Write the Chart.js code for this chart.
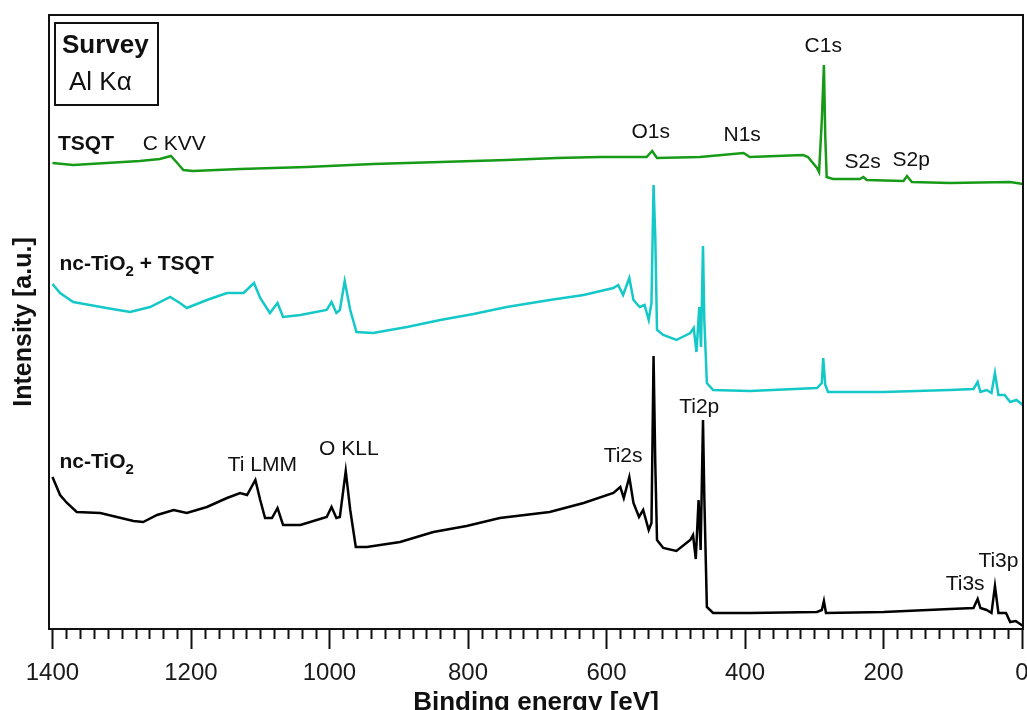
<!DOCTYPE html>
<html>
<head>
<meta charset="utf-8">
<script src="https://cdn.jsdelivr.net/npm/chart.js@4/dist/chart.umd.min.js"></script>
<style>
  body { margin: 0; background: #fff; }
  #wrap { width: 1027px; height: 710px; }
</style>
</head>
<body>
<div id="wrap"><canvas id="xps" width="1027" height="710"></canvas></div>
<script>
// XPS survey spectra, binding energy in eV, intensity in arbitrary units (offset stacked)
const tsqtEnergy = [1400, 1370, 1322, 1274, 1245, 1229, 1221, 1211, 1197, 1129, 1033, 937, 840, 744, 672,
  609, 542, 534, 527, 465, 402, 393, 316, 309, 296, 293, 289, 286, 284, 282,
  273, 234, 229, 224, 171, 166, 159, 104, 17, -1.5];
const tsqtIntensity = [466, 464, 466, 468, 470, 473, 467, 459, 458, 460, 462, 465, 467, 469, 471,
  472, 472, 478, 471, 472, 476, 472, 474, 472, 461, 457, 509, 564, 492, 452,
  450, 450, 452, 449, 448, 453, 447, 446, 447, 445];

const hybridEnergy = [1400, 1389, 1370, 1346, 1322, 1288, 1259, 1230, 1216, 1206, 1177, 1148, 1124, 1109, 1100,
  1086, 1075, 1067, 1042, 1004, 997, 990, 985, 978, 970, 961, 937, 888, 840, 792,
  744, 682, 633, 590, 583, 576, 567, 561, 552, 545, 539, 535, 532, 529.5, 527,
  518, 499, 479, 474, 470, 466, 463.5, 460.6, 458.7, 455, 446, 393, 296, 289, 287,
  284, 280, 200, 104, 70, 64, 60, 51, 44, 39, 34, 25, 17, 8, -1.5];
const hybridIntensity = [345, 336, 327, 324, 321, 317, 322, 332, 326, 321, 329, 336, 336, 346, 331,
  316, 326, 312, 314, 319, 327, 316, 319, 348, 319, 297, 296, 302, 309, 315,
  322, 329, 334, 341, 344, 334, 351, 329, 322, 324, 309, 326, 444, 392, 299,
  294, 289, 296, 301, 277, 322, 282, 383, 309, 246, 239, 238, 241, 246, 271,
  244, 237, 237, 239, 240, 247, 237, 239, 236, 256, 234, 234, 227, 229, 224];

const tioEnergy = [1400, 1389, 1379, 1365, 1331, 1283, 1269, 1249, 1225, 1206, 1177, 1148, 1129, 1119, 1107,
  1100, 1093, 1083, 1075, 1067, 1042, 1004, 997, 990, 985, 976.5, 970, 962, 946, 898,
  850, 802, 754, 682, 633, 590, 580, 575, 567, 561, 553, 547, 539, 535, 532,
  529.5, 527, 518, 499, 479, 475, 471, 467, 464, 460.6, 458.7, 455, 446, 393, 296,
  289, 286, 283, 200, 104, 70, 64, 60, 51, 44, 39, 34, 23, 17, 9, -1.5];
const tioIntensity = [152, 134, 126, 117, 116, 108, 107, 114, 119, 116, 122, 131, 136, 134, 149,
  129, 111, 111, 121, 104, 104, 112, 122, 111, 112, 158, 119, 82, 82, 87,
  97, 103, 111, 117, 126, 136, 142, 131, 152, 126, 112, 119, 99, 106, 273,
  166, 89, 81, 78, 89, 94, 70, 129, 79, 209, 132, 22, 16, 16, 17,
  19, 28, 16, 17, 20, 21, 30, 21, 19, 16, 43, 16, 16, 7, 8, 3];

// peak assignments (anchored in data units: energy, intensity at text baseline)
const peakLabels = ['C KVV', 'O1s', 'N1s', 'C1s', 'S2s', 'S2p', 'Ti LMM', 'O KLL', 'Ti2s', 'Ti2p', 'Ti3s', 'Ti3p'];
const peakLabelEnergy = [1224, 536, 404, 287, 230, 160, 1097, 972, 576, 466, 82, 34];
const peakLabelIntensity = [479, 491, 488, 577, 461, 463, 158, 174, 167, 216, 39, 62];

const sampleLabels = ['TSQT', 'nc-TiO_2 + TSQT', 'nc-TiO_2'];
const sampleLabelEnergy = [1392, 1390, 1390];
const sampleLabelIntensity = [479, 359, 161];

const xTicks = [0, 200, 400, 600, 800, 1000, 1200, 1400];
const xMinorStep = 20;

const FONT = '"Liberation Sans", Arial, sans-serif';

const toPoints = (xs, ys) => xs.map((x, i) => ({ x, y: ys[i] }));

// text with "_2" style subscripts
function drawRich(ctx, text, x, y, size, bold) {
  const parts = text.split(/(_\d)/);
  let cx = x;
  for (const p of parts) {
    if (!p) continue;
    const sub = p.startsWith('_');
    const s = sub ? p.slice(1) : p;
    ctx.font = `${bold ? 'bold ' : ''}${sub ? Math.round(size * 0.7) : size}px ${FONT}`;
    ctx.fillText(s, cx, sub ? y + 6 : y);
    cx += ctx.measureText(s).width;
  }
}

const decorations = {
  id: 'decorations',
  afterDraw(chart) {
    const { ctx, chartArea: a, scales: { x, y } } = chart;
    ctx.save();
    ctx.strokeStyle = '#111';
    ctx.lineWidth = 2;
    ctx.strokeRect(a.left, a.top, a.right - a.left, a.bottom - a.top);

    // bottom ticks, major and minor
    ctx.beginPath();
    for (let e = 0; e <= xTicks[xTicks.length - 1]; e += xMinorStep) {
      const px = Math.round(x.getPixelForValue(e)) + 0.5;
      const len = xTicks.includes(e) ? 20 : 10;
      ctx.moveTo(px, a.bottom);
      ctx.lineTo(px, a.bottom + len);
    }
    ctx.stroke();

    // x axis title (bottom of it is cut off by the canvas edge, like the original)
    ctx.fillStyle = '#111';
    ctx.font = `bold 26px ${FONT}`;
    ctx.textAlign = 'center';
    ctx.textBaseline = 'alphabetic';
    ctx.fillText('Binding energy [eV]', (a.left + a.right) / 2, 710);

    // Survey box
    ctx.lineWidth = 2;
    ctx.strokeRect(a.left + 6, a.top + 8, 103, 82);
    ctx.textAlign = 'left';
    ctx.font = `bold 26px ${FONT}`;
    ctx.fillText('Survey', a.left + 13, a.top + 38);
    ctx.font = `26px ${FONT}`;
    ctx.fillText('Al K\u03b1', a.left + 20, a.top + 75);

    // peak labels
    ctx.textAlign = 'center';
    ctx.font = `21px ${FONT}`;
    peakLabels.forEach((t, i) => {
      ctx.fillText(t, x.getPixelForValue(peakLabelEnergy[i]), y.getPixelForValue(peakLabelIntensity[i]));
    });

    // sample labels
    ctx.textAlign = 'left';
    sampleLabels.forEach((t, i) => {
      drawRich(ctx, t, x.getPixelForValue(sampleLabelEnergy[i]), y.getPixelForValue(sampleLabelIntensity[i]), 21, true);
    });
    ctx.restore();
  }
};

const lineStyle = { borderWidth: 2.5, pointRadius: 0, tension: 0, fill: false };

new Chart(document.getElementById('xps'), {
  type: 'line',
  data: {
    datasets: [
      { label: 'TSQT', data: toPoints(tsqtEnergy, tsqtIntensity), borderColor: '#179a17', ...lineStyle },
      { label: 'nc-TiO2 + TSQT', data: toPoints(hybridEnergy, hybridIntensity), borderColor: '#14c8c8', ...lineStyle },
      { label: 'nc-TiO2', data: toPoints(tioEnergy, tioIntensity), borderColor: '#000000', ...lineStyle }
    ]
  },
  options: {
    responsive: false,
    animation: false,
    layout: { padding: { top: 15, right: 4, left: 0, bottom: 0 } },
    plugins: { legend: { display: false }, tooltip: { enabled: false } },
    scales: {
      x: {
        type: 'linear',
        reverse: true,
        min: -1.5,
        max: 1405,
        grid: { display: false, drawTicks: false },
        border: { display: false },
        ticks: {
          autoSkip: false,
          maxRotation: 0,
          padding: 30,
          color: '#1a1a1a',
          font: { family: FONT, size: 24 },
          callback: v => String(v)
        },
        afterBuildTicks: s => { s.ticks = xTicks.map(v => ({ value: v })); },
        afterFit: s => { s.height = 81; s.paddingLeft = 0; s.paddingRight = 0; }
      },
      y: {
        min: 0,
        max: 614,
        grid: { display: false, drawTicks: false },
        border: { display: false },
        ticks: { display: false },
        title: {
          display: true,
          text: 'Intensity [a.u.]',
          color: '#111',
          font: { family: FONT, size: 25, weight: 'bold' },
          padding: { top: 9, bottom: 0 }
        },
        afterFit: s => { s.width = 49; s.paddingTop = 0; s.paddingBottom = 0; }
      }
    }
  },
  plugins: [decorations]
});
</script>
</body>
</html>
